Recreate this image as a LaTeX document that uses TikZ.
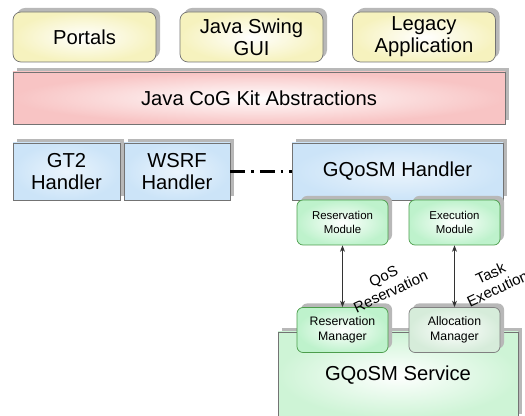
\documentclass[tikz,border=0pt]{standalone}
\usepackage{fontspec}
\setmainfont{Liberation Sans}
\usetikzlibrary{arrows.meta, positioning, shadows}
\definecolor{appyel}{RGB}{246,242,190}
\definecolor{cogred}{RGB}{248,196,196}
\definecolor{hndblu}{RGB}{204,228,248}
\definecolor{modgrn}{RGB}{190,242,204}
\definecolor{srvgrn}{RGB}{206,244,214}
\definecolor{allgrn}{RGB}{214,236,218}
\tikzset{
  dgm/.style={font=\fontsize{11.5}{12.5}\selectfont,
              >={Stealth[length=1.3mm, width=1mm]}},
  blk/.style={draw=black!55, align=center, inner sep=2pt,
              general shadow={fill=black!28, shadow xshift=0.8mm, shadow yshift=0.8mm}},
  app/.style={blk, rounded corners=1.6mm, inner color=white, outer color=appyel,
              minimum width=28.6mm, minimum height=10mm},
  cog/.style={blk, inner color=white, outer color=cogred,
              minimum width=98.4mm, minimum height=10.4mm},
  hnd/.style={blk, inner color=white!60!hndblu, outer color=hndblu,
              minimum height=11.4mm},
  mod/.style={blk, draw=green!45!black!70, rounded corners=1.2mm,
              inner color=white, outer color=modgrn,
              minimum width=18.2mm, minimum height=9mm,
              font=\fontsize{6.5}{8}\selectfont},
  srv/.style={blk, inner color=white, outer color=srvgrn,
              minimum width=48mm, minimum height=17.2mm},
  lbl/.style={font=\fontsize{8.5}{9.5}\selectfont, align=center, rotate=25, inner sep=1pt},
  ar/.style={<->, black!80, thin},
  lnk/.style={line width=1.6pt, dash pattern=on 3mm off 1.2mm on 0.5mm off 1.2mm}
}
\begin{document}
\begin{tikzpicture}[dgm]
    \useasboundingbox (0,0) rectangle (10.5,-8.32);

    % applications
    \node[app] (por) at (1.69,-0.74) {Portals};
    \node[app] (jsw) at (5.03,-0.74) {Java Swing\\GUI};
    \node[app] (leg) at (8.48,-0.74) {Legacy\\Application};

    \node[cog] (cog) at (5.18,-1.96) {Java CoG Kit Abstractions};

    % handlers
    \node[hnd, minimum width=21.4mm] (gt2) at (1.33,-3.43) {GT2\\Handler};
    \node[hnd, minimum width=21.2mm] (wsrf) at (3.54,-3.43) {WSRF\\Handler};
    \node[hnd, minimum width=42.2mm] (gqh) at (7.95,-3.43) {GQoSM Handler};
    \draw[lnk] (wsrf.east) -- (gqh.west);

    \node[mod] (rmod) at (6.85,-4.45) {Reservation\\Module};
    \node[mod] (emod) at (9.09,-4.45) {Execution\\Module};

    % service side
    \node[srv] (srv) at (7.96,-7.50) {GQoSM Service};
    \node[mod, font=\fontsize{7}{8.5}\selectfont] (rmgr) at (6.85,-6.60) {Reservation\\Manager};
    \node[mod, draw=black!50, outer color=allgrn, font=\fontsize{7}{8.5}\selectfont]
         (amgr) at (9.09,-6.60) {Allocation\\Manager};

    \draw[ar] (rmod) -- (rmgr);
    \draw[ar] (emod) -- (amgr);
    \node[lbl] (qos) at (7.74,-5.68) {QoS\\Reservation};
    \node[lbl] (tsk) at (9.88,-5.62) {Task\\Execution};
  \end{tikzpicture}
\end{document}
